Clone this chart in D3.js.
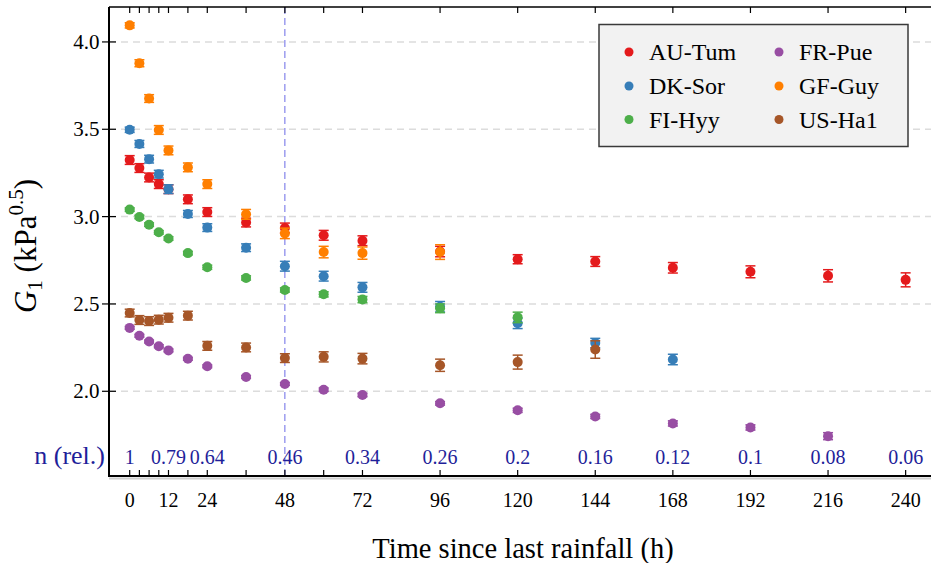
<!DOCTYPE html>
<html><head><meta charset="utf-8">
<script src="https://cdn.jsdelivr.net/npm/d3@7/dist/d3.min.js"></script>
<style>
html,body{margin:0;padding:0;background:#fff;}
svg{display:block;}
svg text{font-family:"Liberation Serif","Times New Roman",Times,serif;}
</style></head>
<body><svg id="c" width="931" height="563" font-family="Liberation Serif, serif"></svg>
<script>
const hours = [0,3,6,9,12,18,24,36,48,60,72,96,120,144,168,192,216,240];
const tickHours = [0,3,6,9,12,18,24,36,48,60,72,96,120,144,168,192,216,240];
const labeledHours = [0,12,24,48,72,96,120,144,168,192,216,240];
const yTicks = [2.0,2.5,3.0,3.5,4.0];
const nHours = [0,12,24,48,72,96,120,144,168,192,216,240];
const nLabels = ["1","0.79","0.64","0.46","0.34","0.26","0.2","0.16","0.12","0.1","0.08","0.06"];
const markerHour = 48;

const siteNames = ["AU-Tum","DK-Sor","FI-Hyy","FR-Pue","GF-Guy","US-Ha1"];
const siteColors = ["#e41a1c","#377eb8","#4daf4a","#984ea3","#ff7f00","#a65628"];

const auTum = [3.324,3.278,3.224,3.186,3.157,3.099,3.026,2.966,2.935,2.893,2.862,2.800,2.756,2.743,2.707,2.684,2.661,2.638];
const auTumErr = [0.025,0.025,0.025,0.025,0.025,0.025,0.025,0.025,0.028,0.028,0.028,0.030,0.026,0.028,0.030,0.034,0.035,0.040];
const dkSor = [3.497,3.416,3.329,3.243,3.157,3.015,2.937,2.822,2.716,2.659,2.595,2.484,2.389,2.276,2.182];
const dkSorErr = [0.015,0.020,0.022,0.022,0.025,0.020,0.022,0.022,0.028,0.028,0.028,0.030,0.030,0.027,0.030];
const fiHyy = [3.040,2.998,2.954,2.910,2.875,2.791,2.710,2.649,2.580,2.555,2.525,2.475,2.423];
const fiHyyErr = [0.010,0.010,0.010,0.010,0.010,0.010,0.012,0.012,0.012,0.015,0.018,0.025,0.030];
const frPue = [2.363,2.318,2.285,2.258,2.234,2.186,2.143,2.082,2.042,2.009,1.979,1.931,1.891,1.856,1.816,1.793,1.743];
const frPueErr = [0.008,0.008,0.008,0.008,0.008,0.008,0.008,0.008,0.008,0.010,0.010,0.010,0.012,0.012,0.015,0.015,0.020];
const gfGuy = [4.095,3.878,3.676,3.496,3.379,3.282,3.186,3.013,2.904,2.797,2.791,2.797];
const gfGuyErr = [0.015,0.020,0.022,0.025,0.025,0.025,0.025,0.028,0.030,0.033,0.035,0.042];
const usHa1 = [2.448,2.408,2.402,2.410,2.421,2.433,2.260,2.251,2.190,2.197,2.187,2.149,2.167,2.239];
const usHa1Err = [0.022,0.025,0.025,0.025,0.025,0.025,0.025,0.025,0.025,0.029,0.030,0.035,0.040,0.050];

const seriesValues = [auTum,dkSor,fiHyy,frPue,gfGuy,usHa1];
const seriesErrors = [auTumErr,dkSorErr,fiHyyErr,frPueErr,gfGuyErr,usHa1Err];

const FONT = "Liberation Serif, Times New Roman, serif";
const svg = d3.select("#c");
const L = 109, R = 937, T = 7, B = 476;
const x = d3.scaleLinear().domain([-6.4, 249.7]).range([L, R]);
const y = d3.scaleLinear().domain([1.515, 4.2]).range([B, T]);
const nColor = "#1f1f9a";

// gridlines
svg.append("g").selectAll("line").data(yTicks).join("line")
  .attr("x1", L).attr("x2", 931).attr("y1", d=>y(d)).attr("y2", d=>y(d))
  .attr("stroke", "#dcdcdc").attr("stroke-width", 1.5).attr("stroke-dasharray", "7,5");

// vertical dashed marker line
svg.append("line").attr("x1", x(markerHour)).attr("x2", x(markerHour))
  .attr("y1", T).attr("y2", B).attr("stroke", "#6a6ae6").attr("stroke-width", 1)
  .attr("stroke-dasharray", "7,4");

// data
const g = svg.append("g");
seriesValues.forEach((vals, si) => {
  const col = siteColors[si];
  const pts = vals.map((v,i)=>({h:hours[i], v, e:seriesErrors[si][i]}));
  const sg = g.append("g");
  sg.selectAll("line.eb").data(pts).join("line").attr("class","eb")
    .attr("x1", d=>x(d.h)).attr("x2", d=>x(d.h))
    .attr("y1", d=>y(d.v-d.e)).attr("y2", d=>y(d.v+d.e))
    .attr("stroke", col).attr("stroke-width", 1.5);
  sg.selectAll("line.ct").data(pts).join("line").attr("class","ct")
    .attr("x1", d=>x(d.h)-5).attr("x2", d=>x(d.h)+5)
    .attr("y1", d=>y(d.v+d.e)).attr("y2", d=>y(d.v+d.e))
    .attr("stroke", col).attr("stroke-width", 1.5);
  sg.selectAll("line.cb").data(pts).join("line").attr("class","cb")
    .attr("x1", d=>x(d.h)-5).attr("x2", d=>x(d.h)+5)
    .attr("y1", d=>y(d.v-d.e)).attr("y2", d=>y(d.v-d.e))
    .attr("stroke", col).attr("stroke-width", 1.5);
  sg.selectAll("circle").data(pts).join("circle")
    .attr("cx", d=>x(d.h)).attr("cy", d=>y(d.v)).attr("r", 5)
    .attr("fill", col);
});

// axes frame
svg.append("line").attr("x1", L).attr("x2", 931).attr("y1", B+2.5).attr("y2", B+2.5)
  .attr("stroke", "#cfcfcf").attr("stroke-width", 2);
svg.append("line").attr("x1", L).attr("x2", 931).attr("y1", B).attr("y2", B)
  .attr("stroke", "#000").attr("stroke-width", 2);
svg.append("line").attr("x1", L).attr("x2", L).attr("y1", T).attr("y2", B+1)
  .attr("stroke", "#000").attr("stroke-width", 2);
svg.append("line").attr("x1", L).attr("x2", 931).attr("y1", T).attr("y2", T)
  .attr("stroke", "#000").attr("stroke-width", 1.5);

// x ticks bottom & top
svg.append("g").selectAll("line").data(tickHours).join("line")
  .attr("x1", d=>x(d)).attr("x2", d=>x(d)).attr("y1", B).attr("y2", B-6)
  .attr("stroke", "#000").attr("stroke-width", 1.2);
svg.append("g").selectAll("line").data(tickHours).join("line")
  .attr("x1", d=>x(d)).attr("x2", d=>x(d)).attr("y1", T).attr("y2", T+6)
  .attr("stroke", "#000").attr("stroke-width", 1.2);
svg.append("g").selectAll("text").data(labeledHours).join("text")
  .attr("x", d=>x(d)).attr("y", 506.5).attr("text-anchor","middle")
  .attr("font-family", FONT).attr("font-size", 20).attr("fill","#000").text(d=>d);

// y ticks
svg.append("g").selectAll("line").data(yTicks).join("line")
  .attr("x1", L-7).attr("x2", L+7).attr("y1", d=>y(d)).attr("y2", d=>y(d))
  .attr("stroke", "#000").attr("stroke-width", 1.2);
svg.append("g").selectAll("text").data(yTicks).join("text")
  .attr("x", 99.5).attr("y", d=>y(d)+7).attr("text-anchor","end")
  .attr("font-family", FONT).attr("font-size", 21).attr("fill","#000").text(d=>d3.format(".1f")(d));

// n (rel.) labels
svg.append("g").selectAll("text").data(nHours).join("text")
  .attr("x", d=>x(d)).attr("y", 464).attr("text-anchor","middle")
  .attr("font-family", FONT).attr("font-size", 20).attr("fill", nColor).text((d,i)=>nLabels[i]);
svg.append("text").attr("x", 105).attr("y", 464).attr("text-anchor","end")
  .attr("font-family", FONT).attr("font-size", 26).attr("fill", nColor).text("n (rel.)");

// axis titles
svg.append("text").attr("x", 523).attr("y", 558).attr("text-anchor","middle")
  .attr("font-family", FONT).attr("font-size", 28.5).attr("fill","#000").text("Time since last rainfall (h)");

const yt = svg.append("text").attr("transform","translate(36,246) rotate(-90)")
  .attr("text-anchor","middle").attr("font-family", FONT).attr("font-size", 31).attr("fill","#000");
yt.append("tspan").attr("font-style","italic").text("G");
yt.append("tspan").attr("font-size", 21).attr("dy", 6).text("1");
yt.append("tspan").attr("dy", -6).text(" (kPa");
yt.append("tspan").attr("font-size", 21).attr("dy", -13).text("0.5");
yt.append("tspan").attr("dy", 13).text(")");

// legend
const lg = svg.append("g");
lg.append("rect").attr("x", 599).attr("y", 24.5).attr("width", 309).attr("height", 122)
  .attr("fill", "#f2f2f2").attr("stroke", "#3a3a3a").attr("stroke-width", 1.5);
const legCols = [629, 779];
const legRows = [52, 86, 119.5];
siteNames.forEach((name, i) => {
  const cx = legCols[Math.floor(i/3)], cy = legRows[i%3];
  lg.append("circle").attr("cx", cx).attr("cy", cy).attr("r", 4.5).attr("fill", siteColors[i]);
  lg.append("text").attr("x", cx+20).attr("y", cy+8).attr("font-family", FONT).attr("font-size", 24)
    .attr("fill","#000").text(name);
});
</script></body></html>
